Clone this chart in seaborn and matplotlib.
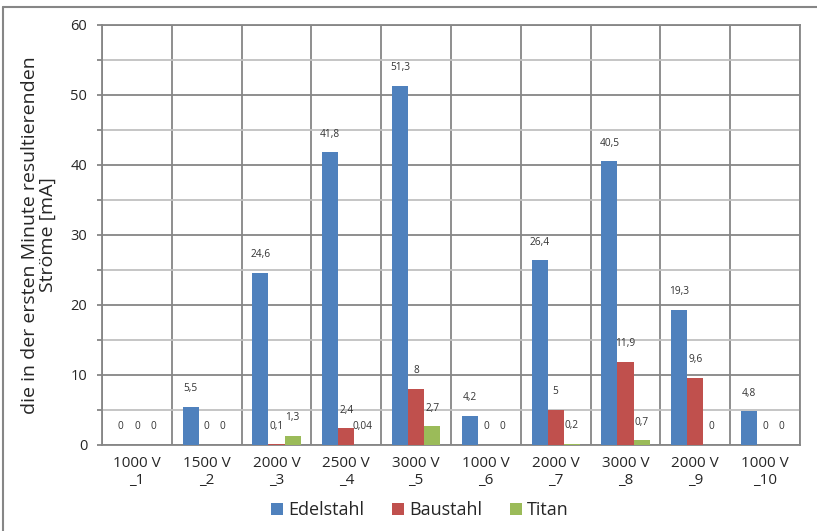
import matplotlib
matplotlib.use("Agg")
import matplotlib.pyplot as plt
from matplotlib.lines import Line2D
from matplotlib.ticker import MultipleLocator, FixedLocator
import seaborn as sns
import pandas as pd

# Versuchsreihen (Spannung _ Versuchsnummer)
kategorien = ["1000 V\n_1", "1500 V\n_2", "2000 V\n_3", "2500 V\n_4", "3000 V\n_5",
              "1000 V\n_6", "2000 V\n_7", "3000 V\n_8", "2000 V\n_9", "1000 V\n_10"]
edelstahl = [0, 5.5, 24.6, 41.8, 51.3, 4.2, 26.4, 40.5, 19.3, 4.8]
baustahl = [0, 0, 0.1, 2.4, 8, 0, 5, 11.9, 9.6, 0]
titan = [0, 0, 1.3, 0.04, 2.7, 0, 0.2, 0.7, 0, 0]
werkstoffe = ["Edelstahl", "Baustahl", "Titan"]
farben = ["#4F81BD", "#C0504D", "#9BBB59"]

rows = []
for name, werte in zip(werkstoffe, [edelstahl, baustahl, titan]):
    for k, v in zip(kategorien, werte):
        rows.append({"Versuch": k, "Strom": v, "Werkstoff": name})
df = pd.DataFrame(rows)

sns.set_style("white")
plt.rcParams["font.family"] = ["Open Sans", "DejaVu Sans"]

fig = plt.figure(figsize=(8.17, 5.31), dpi=100)
ax = fig.add_axes([102 / 817, 1 - 445 / 531, 698 / 817, 420 / 531])

sns.barplot(data=df, x="Versuch", y="Strom", hue="Werkstoff", hue_order=werkstoffe,
            order=kategorien, palette=farben, saturation=1, width=0.69, gap=0,
            edgecolor="none", errorbar=None, ax=ax, zorder=3)

# Wertebeschriftungen über den Balken
for container in ax.containers:
    for rect in container:
        h = rect.get_height()
        txt = f"{h:g}".replace(".", ",")
        ax.annotate(txt, (rect.get_x() + rect.get_width() / 2, h),
                    xytext=(0, 13), textcoords="offset points",
                    ha="center", va="center", fontsize=7.3, color="#333333")

gray = "#868686"
ax.set_xlim(-0.5, 9.5)
ax.set_ylim(0, 60)
ax.yaxis.set_major_locator(MultipleLocator(10))
ax.yaxis.set_minor_locator(MultipleLocator(5))
ax.xaxis.set_minor_locator(FixedLocator([i - 0.5 for i in range(11)]))

ax.grid(which="major", axis="y", color=gray, linewidth=1.3, zorder=0)
ax.grid(which="minor", axis="y", color="#c0c0c0", linewidth=1.3, zorder=0)
ax.grid(which="minor", axis="x", color=gray, linewidth=1.3, zorder=0)
ax.grid(which="major", axis="x", visible=False)
ax.set_axisbelow(True)

for s in ax.spines.values():
    s.set_color(gray)
    s.set_linewidth(1.3)

ax.tick_params(axis="x", which="major", length=0, pad=8, labelsize=11, colors="#262626")
ax.tick_params(axis="x", which="minor", length=3.6, width=1.3, color=gray, direction="out")
ax.tick_params(axis="y", which="both", length=3.6, width=1.3, color=gray, direction="out",
               left=True, labelsize=10.5, labelcolor="#262626")
ax.tick_params(axis="y", which="major", pad=7)

ax.set_xlabel("")
ax.set_ylabel("die in der ersten Minute resultierenden\nStröme [mA]", fontsize=14,
              color="#262626", labelpad=10, linespacing=0.95)

leg = ax.legend(loc="lower center", bbox_to_anchor=(420 / 817, 0.005),
                bbox_transform=fig.transFigure, ncol=3, frameon=False,
                fontsize=13, handlelength=0.68, handleheight=0.68,
                handletextpad=0.3, columnspacing=1.5, borderaxespad=0.1)
for t in leg.get_texts():
    t.set_color("#262626")

# Rahmen um die Grafik
fig.add_artist(Line2D([3.5 / 817, 3.5 / 817], [0, 1 - 7 / 531], transform=fig.transFigure,
                      color=gray, linewidth=1.5))
fig.add_artist(Line2D([3.5 / 817, 1], [1 - 7 / 531, 1 - 7 / 531], transform=fig.transFigure,
                      color=gray, linewidth=1.5))

fig.savefig("out.png", dpi=100)
